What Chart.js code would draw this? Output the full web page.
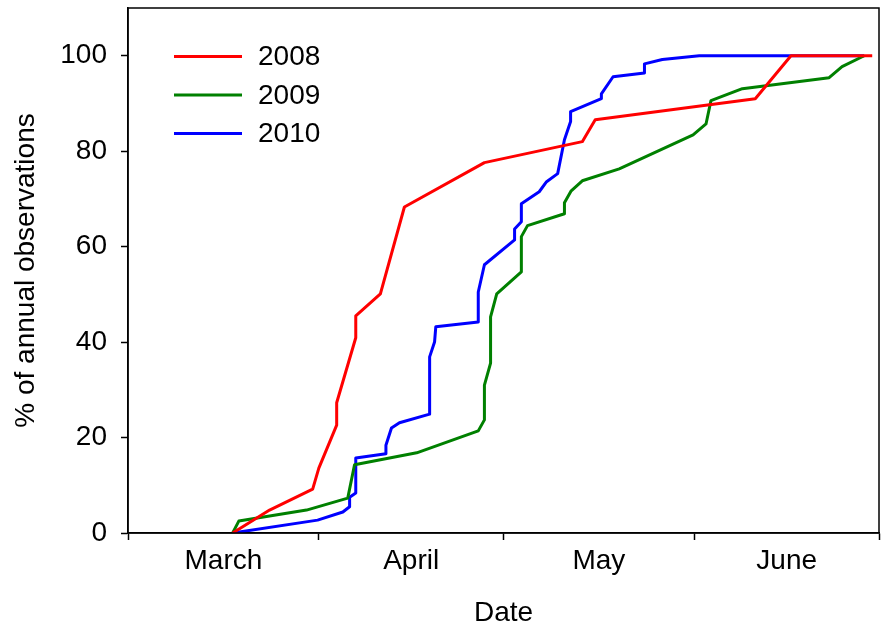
<!DOCTYPE html>
<html>
<head>
<meta charset="utf-8">
<script src="https://cdn.jsdelivr.net/npm/chart.js@4.4.1/dist/chart.umd.min.js"></script>
<style>
  html, body { margin: 0; padding: 0; background: #fff; }
  #wrap { width: 882px; height: 630px; }
</style>
</head>
<body>
<div id="wrap"><canvas id="chart" width="882" height="630"></canvas></div>
<script>
// x values are days counted from 1 March
const MONTHS = ['March', 'April', 'May', 'June'];
const MONTH_STARTS = [0, 31, 61, 92, 122];
const Y_TICKS = [0, 20, 40, 60, 80, 100];

const days2008 = [17.0, 23.0, 30.0, 31.0, 33.9, 33.9, 37.0, 37.0, 41.0, 44.9, 57.9, 73.8, 75.9, 101.9, 107.7, 120.9];
const pct2008 = [0, 4.8, 9.2, 13.6, 22.6, 27.3, 40.9, 45.5, 50.1, 68.3, 77.6, 82.0, 86.6, 91.0, 100, 100];

const days2009 = [17.0, 18.0, 29.0, 35.7, 36.8, 46.9, 56.9, 57.9, 57.9, 58.9, 58.9, 59.9, 63.9, 63.9, 64.9, 70.9, 70.9, 72.0, 73.8, 79.8, 91.8, 93.9, 94.7, 99.8, 113.9, 116.0, 119.6];
const pct2009 = [0, 2.5, 4.8, 7.3, 14.3, 16.8, 21.4, 23.7, 31.0, 35.6, 45.3, 50.1, 54.7, 62.1, 64.4, 66.9, 69.2, 71.7, 73.8, 76.3, 83.4, 85.7, 90.6, 93.1, 95.4, 97.7, 100];

const days2010 = [17.0, 30.8, 34.9, 36.0, 36.0, 37.0, 37.0, 41.9, 41.9, 42.8, 44.1, 49.0, 49.0, 49.8, 50.0, 56.9, 56.9, 57.9, 62.8, 62.8, 63.9, 63.9, 66.8, 68.0, 69.8, 70.9, 71.9, 71.9, 76.9, 76.9, 78.8, 83.9, 83.9, 86.8, 92.8, 119.6];
const pct2010 = [0, 2.7, 4.4, 5.5, 7.5, 8.4, 15.7, 16.6, 18.4, 22.0, 23.1, 24.9, 36.9, 40.0, 43.2, 44.2, 50.5, 56.2, 61.4, 63.7, 65.2, 69.0, 71.5, 73.6, 75.3, 82.4, 86.2, 88.3, 91.0, 92.0, 95.6, 96.4, 98.3, 99.2, 100, 100];

const FONT = { family: 'Liberation Sans, Arial, sans-serif', size: 28 };

function toPoints(xs, ys) {
  return xs.map((x, i) => ({ x, y: ys[i] }));
}

// month labels sit in the middle of each month, tick marks at month starts
const monthMids = MONTHS.map((m, i) => (MONTH_STARTS[i] + MONTH_STARTS[i + 1]) / 2);
const xTickValues = [...MONTH_STARTS, ...monthMids].sort((a, b) => a - b);

const frameBox = {
  id: 'frameBox',
  afterDraw(chart) {
    const { ctx, chartArea: a } = chart;
    ctx.save();
    ctx.strokeStyle = '#000';
    ctx.lineWidth = 1.5;
    ctx.strokeRect(a.left, a.top, a.right - a.left, a.bottom - a.top);
    ctx.restore();
  }
};

const insideLegend = {
  id: 'insideLegend',
  afterDraw(chart) {
    const { ctx, chartArea: a } = chart;
    ctx.save();
    ctx.font = `${FONT.size}px ${FONT.family}`;
    ctx.textBaseline = 'middle';
    chart.data.datasets.forEach((ds, i) => {
      const y = a.top + 48.5 + i * 38.5;
      ctx.strokeStyle = ds.borderColor;
      ctx.lineWidth = 3;
      ctx.beginPath();
      ctx.moveTo(a.left + 46, y);
      ctx.lineTo(a.left + 114, y);
      ctx.stroke();
      ctx.fillStyle = '#000';
      ctx.fillText(ds.label, a.left + 130, y + 1);
    });
    ctx.restore();
  }
};

new Chart(document.getElementById('chart'), {
  type: 'line',
  data: {
    datasets: [
      { label: '2008', data: toPoints(days2008, pct2008), borderColor: '#ff0000' },
      { label: '2009', data: toPoints(days2009, pct2009), borderColor: '#008000' },
      { label: '2010', data: toPoints(days2010, pct2010), borderColor: '#0000ff' }
    ]
  },
  options: {
    responsive: false,
    animation: false,
    layout: { padding: { top: 8, right: 3, left: 0, bottom: 0 } },
    elements: {
      line: { borderWidth: 3, tension: 0, fill: false, borderJoinStyle: 'round' },
      point: { radius: 0 }
    },
    plugins: {
      legend: { display: false },
      tooltip: { enabled: false }
    },
    scales: {
      x: {
        type: 'linear',
        min: 0,
        max: 122,
        afterBuildTicks: (scale) => {
          scale.ticks = xTickValues.map((v) => ({ value: v }));
        },
        afterFit: (scale) => {
          scale.height = 97;
          scale.paddingLeft = 0;
          scale.paddingRight = 0;
        },
        ticks: {
          autoSkip: false,
          maxRotation: 0,
          padding: 4,
          color: '#000',
          font: FONT,
          callback: (v) => {
            const i = monthMids.indexOf(v);
            return i >= 0 ? MONTHS[i] : '';
          }
        },
        grid: {
          drawOnChartArea: false,
          tickLength: 7,
          tickWidth: 1.5,
          tickColor: (ctx) => (ctx.tick && MONTH_STARTS.includes(ctx.tick.value) ? '#000' : 'rgba(0,0,0,0)')
        },
        border: { color: '#000', width: 1.5 },
        title: {
          display: true,
          text: 'Date',
          color: '#000',
          font: FONT,
          padding: { top: 0, bottom: 0 }
        }
      },
      y: {
        min: 0,
        max: 110,
        afterBuildTicks: (scale) => {
          scale.ticks = Y_TICKS.map((v) => ({ value: v }));
        },
        afterFit: (scale) => {
          scale.width = 128;
          scale.paddingTop = 0;
          scale.paddingBottom = 0;
        },
        ticks: {
          padding: 14,
          color: '#000',
          font: FONT
        },
        grid: {
          drawOnChartArea: false,
          tickLength: 7,
          tickWidth: 1.5,
          tickColor: '#000'
        },
        border: { color: '#000', width: 1.5 },
        title: {
          display: true,
          text: '% of annual observations',
          color: '#000',
          font: FONT,
          padding: { top: 9, bottom: 0 }
        }
      }
    }
  },
  plugins: [frameBox, insideLegend]
});
</script>
</body>
</html>
